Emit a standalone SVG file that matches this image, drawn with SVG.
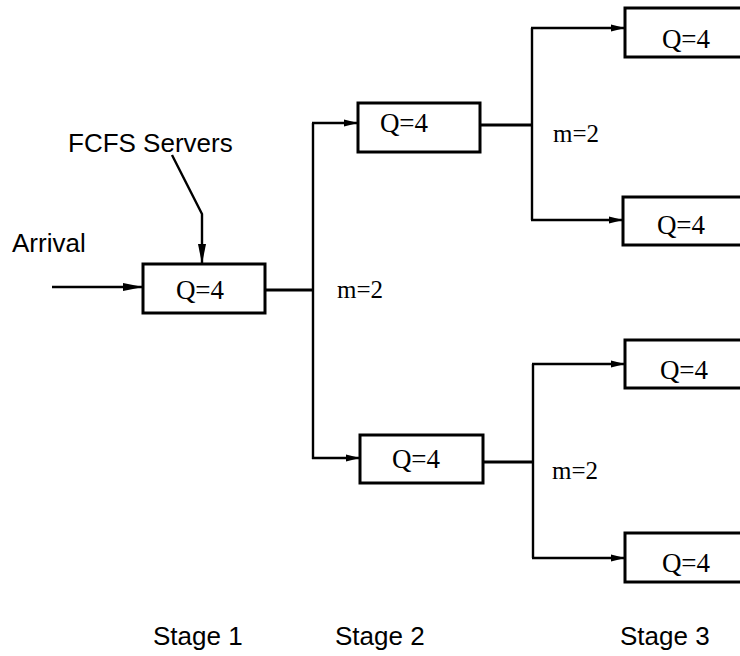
<svg xmlns="http://www.w3.org/2000/svg" width="740" height="656" viewBox="0 0 740 656">
<style>
.box{fill:#fff;stroke:#000;stroke-width:3}
.ln{fill:none;stroke:#000;stroke-width:2.4}
.out{fill:none;stroke:#000;stroke-width:3.2}
.serif{font-family:"Liberation Serif","Times New Roman",serif;font-size:25px;fill:#000}
.q{font-size:27px}
.sans{font-family:"Liberation Sans",Arial,sans-serif;font-size:26px;fill:#000}
</style>
<defs>
<marker id="big" viewBox="0 0 20 10" refX="20" refY="5" markerWidth="20" markerHeight="10" markerUnits="userSpaceOnUse" orient="auto">
<path d="M0,1 L20,5 L0,9 Z" fill="#000"/>
</marker>
<marker id="small" viewBox="0 0 14 10" refX="14" refY="5" markerWidth="14" markerHeight="10" markerUnits="userSpaceOnUse" orient="auto">
<path d="M0,1.5 L14,5 L0,8.5 Z" fill="#000"/>
</marker>
</defs>
<rect width="740" height="656" fill="#fff"/>
<g id="connectors">
<line class="ln" x1="52" y1="287" x2="143" y2="287" marker-end="url(#big)"/>
<polyline class="ln" points="172,155 202,214 202,264" marker-end="url(#big)"/>
<line class="out" x1="265" y1="290" x2="313" y2="290"/>
<line class="ln" x1="313" y1="123" x2="313" y2="459"/>
<line class="ln" x1="312" y1="123" x2="358" y2="123" marker-end="url(#small)"/>
<line class="ln" x1="312" y1="458" x2="360" y2="458" marker-end="url(#small)"/>
<line class="out" x1="480" y1="125" x2="532" y2="125"/>
<line class="ln" x1="532" y1="28" x2="532" y2="220"/>
<line class="ln" x1="531" y1="28" x2="625" y2="28" marker-end="url(#small)"/>
<line class="ln" x1="531" y1="220" x2="623" y2="220" marker-end="url(#small)"/>
<line class="out" x1="483" y1="462" x2="533" y2="462"/>
<line class="ln" x1="533" y1="364" x2="533" y2="558"/>
<line class="ln" x1="532" y1="364" x2="625" y2="364" marker-end="url(#small)"/>
<line class="ln" x1="532" y1="558" x2="625" y2="558" marker-end="url(#small)"/>
</g>
<g id="labels">
<text class="sans" x="68" y="152" font-size="26.5">FCFS Servers</text>
<text class="sans" x="12" y="252">Arrival</text>
<text class="serif" x="337" y="298">m=2</text>
<text class="serif" x="553" y="142">m=2</text>
<text class="serif" x="552" y="479">m=2</text>
<text class="sans" x="153" y="645" font-size="24">Stage 1</text>
<text class="sans" x="335" y="645" font-size="24">Stage 2</text>
<text class="sans" x="620" y="645" font-size="24">Stage 3</text>
</g>
<g id="s1">
<rect class="box" x="143" y="264" width="122" height="49"/>
<text class="serif q" x="200" y="299" text-anchor="middle">Q=4</text>
</g>
<g id="s2a">
<rect class="box" x="358" y="103" width="122" height="49"/>
<text class="serif q" x="404" y="132" text-anchor="middle">Q=4</text>
</g>
<g id="s2b">
<rect class="box" x="360" y="435" width="123" height="48"/>
<text class="serif q" x="416" y="468" text-anchor="middle">Q=4</text>
</g>
<g id="s3a">
<rect class="box" x="625" y="8" width="130" height="49"/>
<text class="serif q" x="686" y="48" text-anchor="middle">Q=4</text>
</g>
<g id="s3b">
<rect class="box" x="623" y="197" width="130" height="48"/>
<text class="serif q" x="681" y="234" text-anchor="middle">Q=4</text>
</g>
<g id="s3c">
<rect class="box" x="625" y="340" width="130" height="48"/>
<text class="serif q" x="684" y="379" text-anchor="middle">Q=4</text>
</g>
<g id="s3d">
<rect class="box" x="625" y="533" width="130" height="49"/>
<text class="serif q" x="686" y="572" text-anchor="middle">Q=4</text>
</g>
</svg>
